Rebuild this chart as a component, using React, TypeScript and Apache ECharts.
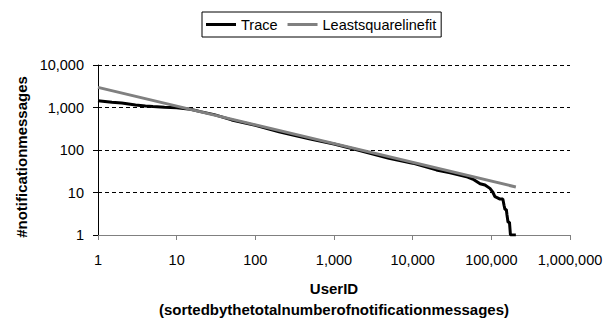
import React, { useEffect, useRef } from "react";
import * as echarts from "echarts";

const seriesNames = ["Trace", "Leastsquarelinefit"];

// Trace: user ID (sorted) and number of notification messages
const traceX = [1, 1.5, 2, 3, 4, 5, 7, 10, 15, 20, 30, 50, 100, 200, 300, 500, 1000, 2000, 5000, 10000, 20000, 30000, 50000, 60000, 72000, 83000, 96000, 105000, 111000, 120000, 129000, 140000, 145000, 149000, 155000, 158000, 163000, 170000, 175000, 205000];
const traceY = [1450, 1330, 1270, 1150, 1080, 1050, 1010, 990, 910, 800, 680, 510, 380, 268, 225, 180, 138, 100, 64, 49, 34, 29, 23, 20, 16, 15, 12.5, 10, 8, 7.5, 7, 7, 5, 4, 4, 3, 2, 2, 1, 1];

// Least squares line fit endpoints
const fitX = [1, 205000];
const fitY = [2980, 13.5];

const FONT = "'Liberation Sans', Arial, sans-serif";

export default function App() {
  const ref = useRef<HTMLDivElement>(null);
  useEffect(() => {
    if (!ref.current) return;
    const chart = echarts.init(ref.current, null, { renderer: "svg" });
    const fmt = (v: number) => Math.round(v).toLocaleString("en-US");
    chart.setOption({
      animation: false,
      backgroundColor: "#fff",
      textStyle: { fontFamily: FONT },
      grid: { left: 98, right: 34, top: 65, bottom: 83, outerBoundsMode: "none", containLabel: false },
      legend: {
        data: seriesNames,
        left: 202,
        top: 12,
        padding: [5, 5, 5, 4],
        itemGap: 10,
        itemWidth: 30,
        itemHeight: 3,
        icon: "rect",
        borderColor: "#000",
        borderWidth: 1,
        textStyle: { fontFamily: FONT, fontSize: 14.5, color: "#000" },
      },
      xAxis: {
        type: "log",
        logBase: 10,
        min: 1,
        max: 1000000,
        splitNumber: 6,
        name: "UserID\n(sortedbythetotalnumberofnotificationmessages)",
        nameLocation: "middle",
        nameGap: 43,
        nameTextStyle: { fontFamily: FONT, fontSize: 15, fontWeight: "bold", color: "#000", lineHeight: 21 },
        axisLine: { lineStyle: { color: "#808080", width: 1 } },
        axisTick: { show: true, inside: false, length: 5, lineStyle: { color: "#808080" } },
        minorTick: { show: false },
        axisLabel: { fontFamily: FONT, fontSize: 14.5, color: "#000", margin: 17, formatter: fmt },
        splitLine: { show: false },
      },
      yAxis: {
        type: "log",
        logBase: 10,
        min: 1,
        max: 10000,
        splitNumber: 4,
        name: "#notificationmessages",
        nameLocation: "middle",
        nameRotate: 90,
        nameGap: 68,
        nameTextStyle: { fontFamily: FONT, fontSize: 15, fontWeight: "bold", color: "#000", padding: [0, 14, 0, 0] },
        axisLine: { show: true, lineStyle: { color: "#000", width: 1 } },
        axisTick: { show: true, inside: false, length: 5, lineStyle: { color: "#000" } },
        axisLabel: { fontFamily: FONT, fontSize: 14.5, color: "#000", margin: 14, formatter: fmt },
        splitLine: { show: true, lineStyle: { color: "#000", width: 1, type: [4, 3] } },
      },
      series: [
        {
          name: seriesNames[0],
          type: "line",
          data: traceX.map((x, i) => [x, traceY[i]]),
          showSymbol: false,
          symbol: "none",
          lineStyle: { color: "#000", width: 3 },
          itemStyle: { color: "#000" },
        },
        {
          name: seriesNames[1],
          type: "line",
          data: fitX.map((x, i) => [x, fitY[i]]),
          showSymbol: false,
          symbol: "none",
          lineStyle: { color: "#808080", width: 3 },
          itemStyle: { color: "#808080" },
        },
      ],
    });
    return () => chart.dispose();
  }, []);
  return (
    <div
      ref={ref}
      style={{ position: "absolute", left: 0, top: 0, width: 604, height: 318, background: "#fff" }}
    />
  );
}
